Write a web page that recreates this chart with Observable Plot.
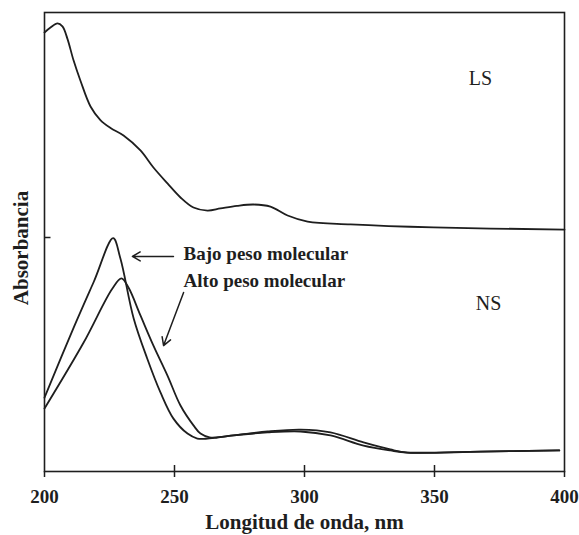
<!DOCTYPE html>
<html>
<head>
<meta charset="utf-8">
<script src="https://cdn.jsdelivr.net/npm/d3@7"></script>
<script src="https://cdn.jsdelivr.net/npm/@observablehq/plot@0.6"></script>
<style>
  html, body { margin: 0; padding: 0; background: #fff; }
</style>
</head>
<body>
<div id="chart"></div>
<script>
// LS spectrum
const wavelengthLS = [200, 202.3, 205, 206.9, 208.8, 211.2, 213.8, 217.7, 221.5, 225.4, 230.4, 236.9, 241.9, 247.3, 252.3, 257.3, 262.7, 267.7, 274, 280.4, 286.9, 293.5, 301.2, 317.7, 349.6, 400];
const absLS = [1.876, 1.897, 1.915, 1.902, 1.850, 1.756, 1.671, 1.560, 1.502, 1.468, 1.436, 1.372, 1.299, 1.231, 1.171, 1.128, 1.115, 1.124, 1.135, 1.141, 1.132, 1.094, 1.068, 1.056, 1.043, 1.034];

// NS, bajo peso molecular
const wavelengthBajo = [200, 211.3, 219, 226.4, 229.2, 234.3, 239.5, 244.6, 249.6, 255, 258.8, 262, 266.5, 272.7, 285.8, 298.5, 310, 322.7, 333, 339.6, 367.7, 398];
const absBajo = [0.316, 0.617, 0.812, 0.997, 0.910, 0.654, 0.483, 0.338, 0.226, 0.162, 0.141, 0.140, 0.145, 0.154, 0.167, 0.171, 0.154, 0.111, 0.090, 0.081, 0.085, 0.090];

// NS, alto peso molecular
const wavelengthAlto = [200, 215, 226, 229.6, 232.3, 236.9, 241.9, 247.3, 252.3, 257.3, 260, 263.5, 272.7, 285.8, 298.5, 310, 322.7, 333, 339.6, 367.7, 398];
const absAlto = [0.269, 0.55, 0.78, 0.825, 0.786, 0.667, 0.538, 0.410, 0.282, 0.197, 0.162, 0.146, 0.154, 0.171, 0.179, 0.167, 0.124, 0.094, 0.081, 0.085, 0.090];

const xTicks = [200, 250, 300, 350, 400];
const yTicks = [1];

const xTitle = "Longitud de onda, nm";
const yTitle = "Absorbancia";

// annotations (data coordinates)
const seriesLabels = ["LS", "NS"];
const seriesLabelX = [367.7, 370.8];
const seriesLabelY = [1.679, 0.718];

const noteLabels = ["Bajo peso molecular", "Alto peso molecular"];
const noteX = [253.5, 253.5];
const noteY = [0.932, 0.816];

const arrowX1 = [249.6, 253.5];
const arrowY1 = [0.919, 0.765];
const arrowX2 = [233.8, 245.8];
const arrowY2 = [0.919, 0.538];

const rows = [];
wavelengthLS.forEach((w, i) => rows.push({wl: w, a: absLS[i], s: "LS"}));
wavelengthBajo.forEach((w, i) => rows.push({wl: w, a: absBajo[i], s: "Bajo"}));
wavelengthAlto.forEach((w, i) => rows.push({wl: w, a: absAlto[i], s: "Alto"}));

const seriesText = seriesLabels.map((t, i) => ({t, x: seriesLabelX[i], y: seriesLabelY[i]}));
const noteText = noteLabels.map((t, i) => ({t, x: noteX[i], y: noteY[i]}));
const arrows = arrowX1.map((x, i) => ({x1: x, y1: arrowY1[i], x2: arrowX2[i], y2: arrowY2[i]}));

const ink = "#1e1e1e";
const font = "'Liberation Serif', 'Times New Roman', serif";

const chart = Plot.plot({
  width: 579,
  height: 535,
  marginLeft: 44,
  marginRight: 15,
  marginTop: 12,
  marginBottom: 64,
  style: {fontFamily: font, background: "#fff", color: ink},
  x: {domain: [200, 400]},
  y: {domain: [0, 459 / 234], axis: null},
  marks: [
    Plot.frame({stroke: ink, strokeWidth: 1.6}),
    Plot.axisX({ticks: xTicks, tickSize: 6, tickPadding: 12, fontSize: 19, fontWeight: "bold", label: null, stroke: ink, strokeWidth: 1.5, tickFormat: d => String(d)}),
    Plot.ruleX(xTicks.slice(1, -1), {y1: 0, y2: 6 / 234, stroke: ink, strokeWidth: 1.5}),
    Plot.ruleY(yTicks, {x1: 200, x2: 202.5, stroke: ink, strokeWidth: 1.5}),
    Plot.line(rows, {x: "wl", y: "a", z: "s", stroke: ink, strokeWidth: 1.8, curve: "catmull-rom"}),
    Plot.text(seriesText, {x: "x", y: "y", text: "t", fontSize: 20, fill: ink, textAnchor: "middle"}),
    Plot.text(noteText, {x: "x", y: "y", text: "t", fontSize: 19, fontWeight: "bold", fill: ink, textAnchor: "start"}),
    Plot.arrow(arrows, {x1: "x1", y1: "y1", x2: "x2", y2: "y2", stroke: ink, strokeWidth: 1.5, headLength: 9}),
    Plot.text([xTitle], {frameAnchor: "bottom", dy: 51, lineAnchor: "middle", textAnchor: "middle", fontSize: 21, fontWeight: "bold", fill: ink}),
    Plot.text([yTitle], {frameAnchor: "left", dx: -23, dy: 6, rotate: -90, textAnchor: "middle", lineAnchor: "middle", fontSize: 21, fontWeight: "bold", fill: ink})
  ]
});

document.getElementById("chart").appendChild(chart);
</script>
</body>
</html>
